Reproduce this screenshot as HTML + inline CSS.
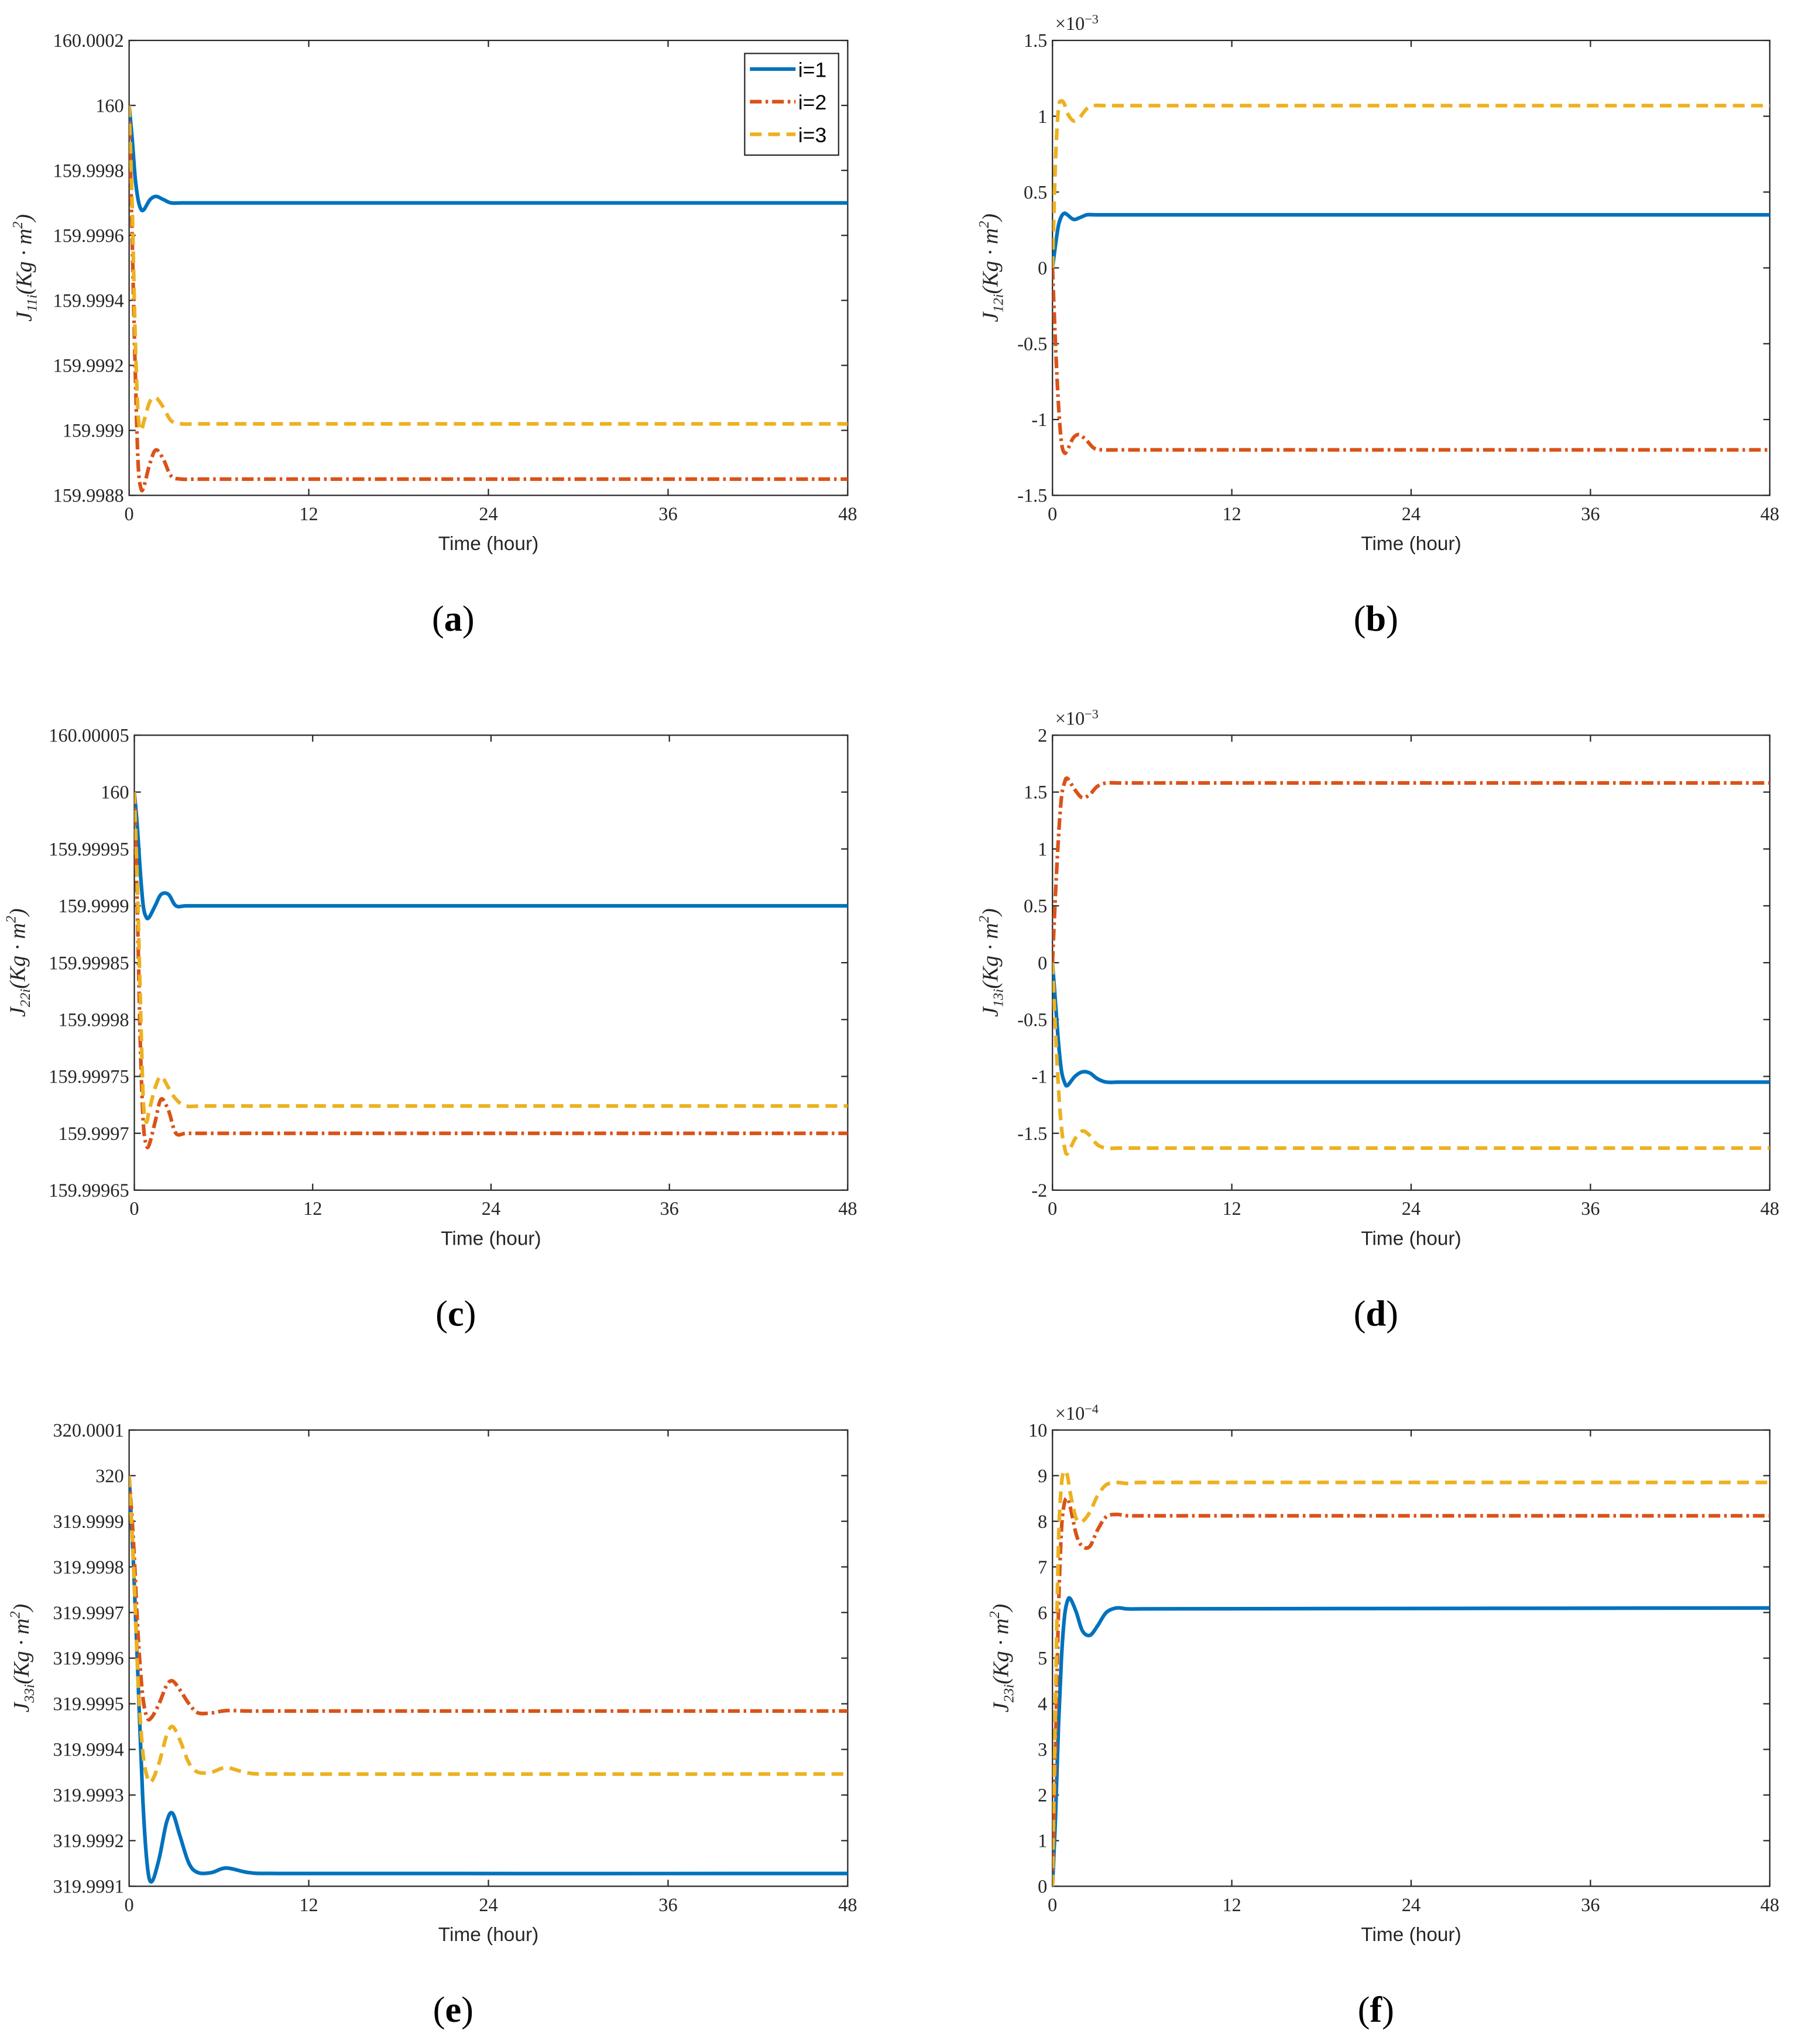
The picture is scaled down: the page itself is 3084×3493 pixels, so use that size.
<!DOCTYPE html>
<html><head><meta charset="utf-8">
<style>
html,body{margin:0;padding:0;background:#fff;}
svg{display:block;}
.tick{font-family:"Liberation Serif",serif;font-size:14.5px;fill:#262626;}
.xl{font-family:"Liberation Sans",sans-serif;font-size:15px;fill:#262626;}
.yl{font-family:"Liberation Serif",serif;font-style:italic;font-size:17px;fill:#262626;}
.pl{font-family:"Liberation Serif",serif;font-size:28px;fill:#000;}
.lg{font-family:"Liberation Sans",sans-serif;font-size:16px;fill:#000;}
</style></head>
<body>
<svg id="fig" width="3084" height="3493" viewBox="0 0 1384 1568" preserveAspectRatio="none" xmlns="http://www.w3.org/2000/svg"></svg>
<script>
// ---- data ----
const tA=[0,0.2,0.4,0.6,0.8,1.0,1.4,1.8,2.3,2.8,3.5,5,48];
const a1=[160,159.99990,159.99978,159.99971,159.99968,159.99968,159.99971,159.99972,159.99971,159.99970,159.99970,159.99970,159.99970];
const a2=[160,159.99960,159.99920,159.99890,159.99882,159.99883,159.99890,159.99894,159.99891,159.99886,159.99885,159.99885,159.99885];
const a3=[160,159.99970,159.99930,159.99905,159.99900,159.99903,159.99909,159.99910,159.99907,159.99903,159.99902,159.99902,159.99902];
const aTicks=["159.9988","159.999","159.9992","159.9994","159.9996","159.9998","160","160.0002"];

const tB=[0,0.2,0.4,0.6,0.8,1.0,1.4,1.8,2.3,2.8,3.5,5,48];
const b1=[0,0.15,0.28,0.34,0.36,0.35,0.32,0.33,0.35,0.35,0.35,0.35,0.35];
const b2=[0,-0.5,-0.9,-1.15,-1.22,-1.2,-1.12,-1.1,-1.14,-1.19,-1.2,-1.2,-1.2];
const b3=[0,0.7,1.05,1.10,1.08,1.02,0.97,0.99,1.05,1.07,1.07,1.07,1.07];
const bTicks=["-1.5","-1","-0.5","0","0.5","1","1.5"];

const tC=[0,0.2,0.4,0.6,0.8,1.0,1.4,1.8,2.3,2.8,3.5,5,48];
const c1=[160,159.99997,159.99993,159.99990,159.99989,159.99989,159.99990,159.99991,159.99991,159.99990,159.99990,159.99990,159.99990];
const c2=[160,159.99990,159.99978,159.99971,159.99969,159.99969,159.99971,159.99973,159.99972,159.99970,159.99970,159.99970,159.99970];
const c3=[160,159.99992,159.99982,159.99973,159.99971,159.99972,159.99974,159.99975,159.99974,159.99973,159.999724,159.999724,159.999724];
const cTicks=["159.99965","159.9997","159.99975","159.9998","159.99985","159.9999","159.99995","160","160.00005"];

const tD=[0,0.2,0.4,0.6,0.8,1.0,1.5,2.0,2.5,3.0,3.6,4.5,6,48];
const d1=[0,-0.35,-0.7,-0.95,-1.05,-1.08,-1.0,-0.96,-0.97,-1.02,-1.05,-1.05,-1.05,-1.05];
const d2=[0,0.6,1.1,1.45,1.58,1.62,1.52,1.45,1.48,1.55,1.58,1.58,1.58,1.58];
const d3=[0,-0.6,-1.1,-1.45,-1.62,-1.68,-1.55,-1.48,-1.52,-1.60,-1.63,-1.63,-1.63,-1.63];
const dTicks=["-2","-1.5","-1","-0.5","0","0.5","1","1.5","2"];

const tE=[0,0.3,0.6,0.9,1.2,1.5,2.0,2.5,2.9,3.4,4.0,4.6,5.5,6.5,8,10,48];
const e1=[320,319.99980,319.99955,319.99930,319.99915,319.99911,319.99916,319.99924,319.99926,319.99921,319.99915,319.99913,319.99913,319.99914,319.99913,319.999128,319.999128];
const e2=[320,319.99985,319.99965,319.99952,319.99947,319.99947,319.99950,319.99954,319.99955,319.99953,319.99950,319.99948,319.99948,319.999485,319.999484,319.999484,319.999484];
const e3=[320,319.99980,319.99955,319.99940,319.99934,319.99933,319.99937,319.99943,319.99945,319.99942,319.99937,319.99935,319.99935,319.99936,319.999348,319.999346,319.999346];
const eTicks=["319.9991","319.9992","319.9993","319.9994","319.9995","319.9996","319.9997","319.9998","319.9999","320","320.0001"];

const tF=[0,0.2,0.4,0.6,0.8,1.0,1.2,1.6,2.0,2.5,3.0,3.6,4.3,5,6,48];
const f1=[0,1.5,3.5,5.0,5.9,6.25,6.3,6.0,5.6,5.5,5.7,6.0,6.1,6.08,6.08,6.1];
const f2=[0,3,6,7.8,8.4,8.5,8.3,7.7,7.45,7.45,7.8,8.1,8.15,8.12,8.12,8.12];
const f3=[0,4,7.5,8.8,9.1,9.0,8.6,8.05,8.0,8.2,8.55,8.8,8.85,8.83,8.85,8.85];
const fTicks=["0","1","2","3","4","5","6","7","8","9","10"];

const xTicks=["0","12","24","36","48"];

// ---- drawing ----
const NS="http://www.w3.org/2000/svg";
const svg=document.getElementById('fig');
function mk(tag,attrs,parent){const e=document.createElementNS(NS,tag);for(const k in attrs)e.setAttribute(k,attrs[k]);(parent||svg).appendChild(e);return e;}

const COL=["#0072BD","#D95319","#EDB120"];
const DASH=["none","9,3,2,3","9,5"];

function smoothPath(pts){
  let d='M'+pts[0][0].toFixed(2)+','+pts[0][1].toFixed(2);
  for(let i=0;i<pts.length-1;i++){
    const p0=pts[Math.max(0,i-1)],p1=pts[i],p2=pts[i+1],p3=pts[Math.min(pts.length-1,i+2)];
    let c1x=p1[0]+(p2[0]-p0[0])/6,c1y=p1[1]+(p2[1]-p0[1])/6;
    let c2x=p2[0]-(p3[0]-p1[0])/6,c2y=p2[1]-(p3[1]-p1[1])/6;
    // keep control x inside segment
    c1x=Math.min(Math.max(c1x,p1[0]),p2[0]);c2x=Math.min(Math.max(c2x,p1[0]),p2[0]);
    d+='C'+c1x.toFixed(2)+','+c1y.toFixed(2)+' '+c2x.toFixed(2)+','+c2y.toFixed(2)+' '+p2[0].toFixed(2)+','+p2[1].toFixed(2);
  }
  return d;
}

function panel(id,box,tt,series,ticks,ymin,ymax,sub,letter,exp,ylx,legend){
  const g=mk('g',{});
  
  
  const [x0,y0,x1,y1]=box;
  const X=t=>x0+(t/48)*(x1-x0);
  const Y=v=>y1-(v-ymin)/(ymax-ymin)*(y1-y0);
  const fr=mk('rect',{x:x0,y:y0,width:x1-x0,height:y1-y0,fill:'#fff',stroke:'#262626','stroke-width':1},g);
  
  
  xTicks.forEach((s,i)=>{
    const x=X(+s);
    mk('line',{x1:x,x2:x,y1:y1,y2:y1-5,stroke:'#262626'},g);
    mk('line',{x1:x,x2:x,y1:y0,y2:y0+5,stroke:'#262626'},g);
    const t=mk('text',{x:x,y:y1+19,'text-anchor':'middle',class:'tick'},g);
    t.textContent=s;
    
    
  });
  const n=ticks.length;
  ticks.forEach((s,i)=>{
    const y=y1-i/(n-1)*(y1-y0);
    mk('line',{x1:x0,x2:x0+5,y1:y,y2:y,stroke:'#262626'},g);
    mk('line',{x1:x1,x2:x1-5,y1:y,y2:y,stroke:'#262626'},g);
    const t=mk('text',{x:x0-4,y:y+5,'text-anchor':'end',class:'tick'},g);
    t.textContent=s;
    
    
  });
  if(exp){
    const t=mk('text',{x:x0+2,y:y0-8,class:'tick','font-size':'13'},g);
    t.innerHTML='×10<tspan dy="-5" font-size="10">'+exp+'</tspan>';
    
    
  }
  const cp=mk('clipPath',{id:'cp'+id},g);
  mk('rect',{x:x0,y:y0-2,width:x1-x0,height:y1-y0+4},cp);
  series.forEach((vals,k)=>{
    const pts=tt.map((t,i)=>[X(t),Y(vals[i])]);
    const p=mk('path',{d:smoothPath(pts),fill:'none',stroke:COL[k],'stroke-width':2.8,'stroke-dasharray':DASH[k],'stroke-linejoin':'round','clip-path':'url(#cp'+id+')'},g);
    
    
  });
  const xl=mk('text',{x:(x0+x1)/2,y:y1+42,'text-anchor':'middle',class:'xl'},g);
  xl.textContent='Time (hour)';
  
  
  const yc=(y0+y1)/2;
  const yl=mk('text',{x:ylx,y:yc,'text-anchor':'middle',class:'yl',transform:'rotate(-90 '+ylx+' '+yc+')'},g);
  yl.innerHTML='J<tspan dy="4" font-size="11">'+sub+'</tspan><tspan dy="-4">(Kg · m</tspan><tspan dy="-7" font-size="11">2</tspan><tspan dy="7">)</tspan>';
  
  
  const pl=mk('text',{x:(x0+x1)/2-27,y:y1+104,'text-anchor':'middle',class:'pl'},g);
  pl.innerHTML='(<tspan font-weight="bold">'+letter+'</tspan>)';
  
  
  if(legend){
    const lg=mk('g',{},g);
    
    
    mk('rect',{x:571,y:41,width:72,height:78,fill:'#fff',stroke:'#262626','stroke-width':1},lg);
    ['i=1','i=2','i=3'].forEach((s,k)=>{
      const yy=53+k*25;
      const e=mk('g',{},lg);
      
      
      mk('line',{x1:575,x2:610,y1:yy,y2:yy,stroke:COL[k],'stroke-width':2.8,'stroke-dasharray':DASH[k]},e);
      const t=mk('text',{x:612,y:yy+6,class:'lg'},e);
      t.textContent=s;
    });
  }
}

panel('a',[99,31,650,380],tA,[a1,a2,a3],aTicks,159.9988,160.0002,'11i','a',null,24,true);
panel('b',[807,31,1357,380],tB,[b1,b2,b3],bTicks,-1.5,1.5,'12i','b','−3',765,false);
panel('c',[103,564,650,913],tC,[c1,c2,c3],cTicks,159.99965,160.00005,'22i','c',null,19,false);
panel('d',[807,564,1357,913],tD,[d1,d2,d3],dTicks,-2,2,'13i','d','−3',765,false);
panel('e',[99,1097,650,1447],tE,[e1,e2,e3],eTicks,319.9991,320.0001,'33i','e',null,22,false);
panel('f',[807,1097,1357,1447],tF,[f1,f2,f3],fTicks,0,10,'23i','f','−4',773,false);
</script>
</body></html>
